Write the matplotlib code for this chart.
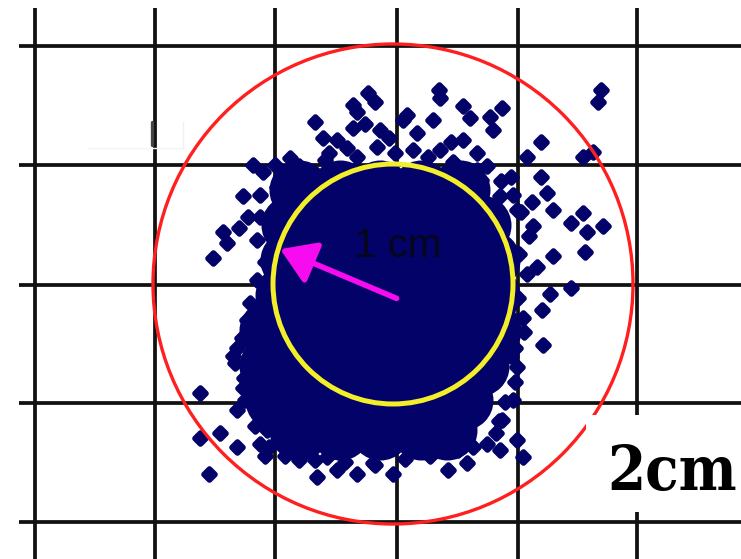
import matplotlib
matplotlib.use("Agg")
import matplotlib.pyplot as plt
from matplotlib.patches import Circle, Rectangle, FancyArrowPatch

# Reference grid (cm)
grid_x = [-2.98, -1.98, -0.98, 0.03, 1.04, 2.03]
grid_y = [1.98, 0.99, -0.01, -0.99, -1.98]

# Circle radii (cm)
R_INNER = 1.0
R_OUTER = 2.0

# Individual impact points (x, y) in cm from the aim point
shots = [
    (-0.21, 1.59), (-0.15, 1.52), (-0.33, 1.49), (-0.30, 1.43), (-0.65, 1.35),
    (-0.58, 1.22), (-0.47, 1.20), (-0.33, 1.30), (-0.23, 1.33), (-0.11, 1.28),
    (-0.03, 1.22), (0.08, 1.37), (-0.13, 1.14), (-0.38, 1.13), (-0.53, 1.09),
    (-0.86, 1.05), (-0.78, 0.98), (-1.17, 0.99), (-1.08, 0.93), (-1.25, 0.73),
    (-1.11, 0.74), (-1.21, 0.56), (-1.11, 0.56), (-1.42, 0.43), (-1.28, 0.47),
    (-0.92, 0.89), (-0.97, 0.81), (0.38, 1.62), (0.39, 1.55), (1.73, 1.62),
    (1.71, 1.52), (0.12, 1.41), (0.33, 1.37), (0.58, 1.48), (0.64, 1.38),
    (0.81, 1.39), (0.91, 1.47), (0.83, 1.28), (0.58, 1.20), (0.48, 1.18),
    (0.20, 1.26), (1.23, 1.18), (1.12, 1.06), (1.58, 1.06), (1.67, 1.10),
    (0.78, 0.98), (0.98, 0.89), (1.23, 0.89), (1.28, 0.76), (1.16, 0.68),
    (1.33, 0.62), (1.48, 0.51), (1.58, 0.59), (1.75, 0.48), (1.62, 0.43),
    (0.89, 0.73), (1.03, 0.62), (1.17, 0.48), (0.73, 0.87), (0.70, 1.09),
    (0.17, 1.12), (0.39, 1.12), (1.33, 0.23), (1.60, 0.27), (1.48, -0.03),
    (1.31, -0.08), (1.24, -0.22), (1.25, -0.51), (1.20, 0.14), (1.08, -0.28),
    (1.02, -0.53), (1.03, -0.69), (1.00, -0.97), (0.91, -1.13), (1.03, -1.30),
    (1.08, -1.44), (0.89, -1.38), (0.78, -1.33), (0.67, -1.36), (0.46, -1.55),
    (0.62, -1.49), (0.00, -1.58), (-1.50, 0.22), (-1.38, 0.34), (-1.13, 0.03),
    (-1.30, -0.53), (-1.32, -0.66), (-1.61, -0.91), (-1.25, -0.87), (-1.30, -1.05),
    (-1.61, -1.28), (-1.44, -1.24), (-1.30, -1.36), (-1.53, -1.58), (-0.80, -1.33),
    (-1.05, -1.22), (-1.11, -1.33), (-1.22, -0.30), (-1.19, -0.16), (-0.63, -1.61),
    (-0.47, -1.55), (-0.30, -1.58), (-0.55, -1.44), (-0.17, -1.49), (-1.03, -1.36),
    (0.88, -1.14), (-1.15, -1.18), (-1.07, -1.43), (-0.90, -1.43), (-0.78, -1.47),
    (-1.23, -0.97), (-0.65, -1.47), (-0.40, -1.48), (-0.15, -1.51), (0.10, -1.46),
    (0.31, -1.43), (0.54, -1.38), (0.86, -1.24), (-0.98, 0.99), (-0.57, 1.03),
    (-0.30, 1.06), (0.02, 1.09), (0.29, 1.06), (0.50, 1.02), (0.70, 0.95),
    (0.90, 0.86), (1.00, 0.74), (-1.13, 0.37), (-1.07, 0.18), (-1.26, -0.45),
    (-1.33, -0.60), (-1.24, -0.78), (-1.18, -0.62), (1.07, 0.60), (1.13, 0.40),
    (1.05, 0.25), (1.12, 0.08), (1.04, -0.12), (1.09, -0.40), (0.98, -0.60),
    (1.02, -0.82), (0.93, -0.98),
]

# Dense core of the group, drawn as heavy overlapping marks
core = [
    (-0.78, 0.78), (-0.44, 0.78), (-0.11, 0.78), (0.23, 0.78), (0.56, 0.78),
    (-0.85, 0.49), (-0.61, 0.49), (-0.28, 0.49), (0.06, 0.49), (0.39, 0.49), (0.73, 0.49),
    (-0.86, 0.20), (-0.53, 0.20), (-0.19, 0.20), (0.14, 0.20), (0.48, 0.20), (0.81, 0.20),
    (-0.90, -0.09), (-0.57, -0.09), (-0.23, -0.09), (0.10, -0.09), (0.43, -0.09), (0.81, -0.09),
    (-1.03, -0.38), (-0.69, -0.38), (-0.36, -0.38), (-0.03, -0.38), (0.31, -0.38), (0.64, -0.38), (0.82, -0.38),
    (-1.03, -0.68), (-0.69, -0.68), (-0.36, -0.68), (-0.03, -0.68), (0.31, -0.68), (0.64, -0.68), (0.72, -0.68),
    (-0.98, -0.97), (-0.69, -0.97), (-0.36, -0.97), (-0.03, -0.97), (0.31, -0.97), (0.58, -0.97),
    (-0.78, -1.22), (-0.44, -1.22), (-0.11, -1.22), (0.23, -1.22), (0.45, -1.22),
]

# Radius arrow: tail and tip (cm)
arrow_tail = (0.03, -0.12)
arrow_tip = (-0.94, 0.29)

NAVY = "#020268"

fig = plt.figure(figsize=(7.41, 5.59), dpi=100)
ax = fig.add_axes([0, 0, 1, 1])
ax.set_xlim(-3.275, 2.9)
ax.set_ylim(-2.2917, 2.3667)
ax.axis("off")

# grid
for gx in grid_x:
    ax.plot([gx, gx], [-2.4, 2.30], color="#111111", lw=2.7, solid_capstyle="butt", zorder=1)
for gy in grid_y:
    ax.plot([-3.12, 3.0], [gy, gy], color="#111111", lw=2.7, solid_capstyle="butt", zorder=1)

# faint leftover marks near the upper-left grid cell
ax.plot([-2.01, -2.01], [1.16, 1.35], color="#444444", lw=2.4, solid_capstyle="round", zorder=1)
ax.plot([-2.54, -1.75], [1.13, 1.13], color="#f4f4f4", lw=1.0, zorder=1)
ax.plot([-1.75, -1.75], [1.13, 1.35], color="#f0f0f0", lw=1.0, zorder=1)

# impacts
cx, cy = zip(*core)
ax.scatter(cx, cy, s=1866, marker="o", color=NAVY, linewidths=0, zorder=2)
sx, sy = zip(*shots)
pts = ax.scatter(sx, sy, s=32, marker="D", color=NAVY, edgecolor=NAVY, linewidths=4.0, zorder=3)
pts.set_joinstyle("round")

# circles
ax.add_patch(Circle((0, 0), R_OUTER, fill=False, edgecolor="#ff1f1f", lw=2.4, zorder=4))
ax.add_patch(Circle((0, 0), R_INNER, fill=False, edgecolor="#f2ee2a", lw=3.6, zorder=4))

# arrow
ax.add_patch(FancyArrowPatch(arrow_tail, arrow_tip, arrowstyle="-|>,head_length=14,head_width=9",
                             mutation_scale=1.5, color="#f70cf0", lw=4, zorder=5,
                             shrinkA=0, shrinkB=0))

ax.text(0.04, 0.32, "1 cm", fontsize=29, family="Liberation Sans", color="#06061a",
        ha="center", va="center", zorder=6)

# label box
ax.add_patch(Rectangle((1.61, -1.90), 1.4, 0.81, facecolor="white", edgecolor="none", zorder=7))
ax.text(2.33, -1.72, "2cm", fontsize=44, family="DejaVu Serif", fontweight="bold",
        fontstretch="condensed", color="black", ha="center", va="baseline", zorder=8)

fig.savefig("out.png", dpi=100)
